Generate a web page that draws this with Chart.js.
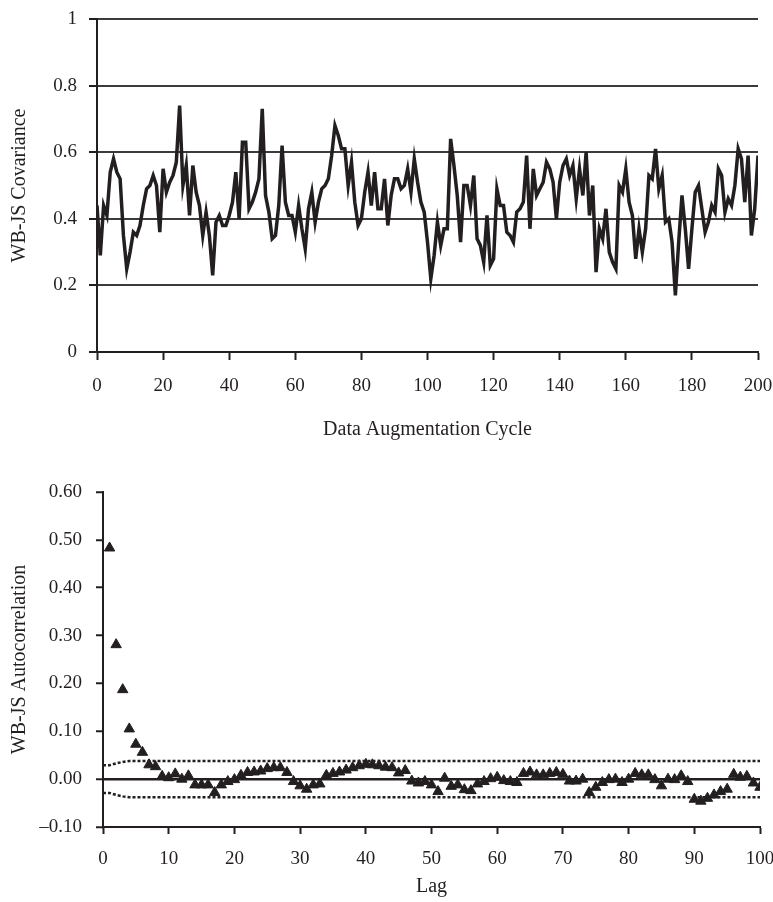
<!DOCTYPE html>
<html>
<head>
<meta charset="utf-8">
<script src="https://cdn.jsdelivr.net/npm/chart.js@4/dist/chart.umd.min.js"></script>
<style>
  html, body { margin: 0; padding: 0; background: #ffffff; }
  #wrap { position: relative; width: 773px; height: 902px; }
  canvas { position: absolute; left: 0; }
</style>
</head>
<body>
<div id="wrap">
  <canvas id="c1" width="773" height="450" style="top:0"></canvas>
  <canvas id="c2" width="773" height="452" style="top:450px"></canvas>
</div>
<script>
// ---------- Data: top chart (WB-JS covariance by data augmentation cycle) ----------
const cycles = Array.from({ length: 201 }, (_, i) => i);
const covariance = [
  0.44, 0.29, 0.44, 0.41, 0.54, 0.58, 0.54, 0.52, 0.35, 0.25,
  0.30, 0.36, 0.35, 0.38, 0.44, 0.49, 0.50, 0.53, 0.50, 0.36,
  0.55, 0.48, 0.51, 0.53, 0.57, 0.74, 0.50, 0.56, 0.41, 0.56,
  0.48, 0.44, 0.35, 0.42, 0.35, 0.23, 0.39, 0.41, 0.38, 0.38,
  0.41, 0.45, 0.54, 0.40, 0.63, 0.63, 0.43, 0.45, 0.48, 0.52,
  0.73, 0.47, 0.42, 0.34, 0.35, 0.44, 0.62, 0.45, 0.41, 0.41,
  0.36, 0.44, 0.37, 0.31, 0.43, 0.48, 0.39, 0.45, 0.49, 0.50,
  0.52, 0.59, 0.68, 0.65, 0.61, 0.61, 0.50, 0.57, 0.45, 0.38,
  0.40, 0.48, 0.54, 0.44, 0.54, 0.43, 0.43, 0.52, 0.38, 0.47,
  0.52, 0.52, 0.49, 0.50, 0.55, 0.48, 0.58, 0.51, 0.45, 0.42,
  0.33, 0.22, 0.29, 0.39, 0.32, 0.37, 0.37, 0.64, 0.56, 0.47,
  0.33, 0.50, 0.50, 0.44, 0.53, 0.34, 0.32, 0.27, 0.41, 0.26,
  0.28, 0.49, 0.44, 0.44, 0.36, 0.35, 0.33, 0.42, 0.43, 0.45,
  0.59, 0.37, 0.55, 0.47, 0.49, 0.51, 0.57, 0.55, 0.51, 0.40,
  0.51, 0.56, 0.58, 0.53, 0.56, 0.46, 0.55, 0.47, 0.60, 0.41,
  0.50, 0.24, 0.37, 0.34, 0.43, 0.30, 0.27, 0.25, 0.50, 0.48,
  0.55, 0.45, 0.41, 0.28, 0.37, 0.30, 0.37, 0.53, 0.52, 0.61,
  0.49, 0.53, 0.39, 0.40, 0.33, 0.17, 0.33, 0.47, 0.37, 0.25,
  0.37, 0.48, 0.50, 0.43, 0.36, 0.39, 0.44, 0.42, 0.55, 0.53,
  0.42, 0.46, 0.44, 0.50, 0.61, 0.58, 0.45, 0.59, 0.35, 0.43,
  0.59
];

// ---------- Data: bottom chart (WB-JS autocorrelation by lag) ----------
const lags = Array.from({ length: 100 }, (_, i) => i + 1);
const autocorrelation = [
  0.483, 0.281, 0.187, 0.105, 0.073, 0.056, 0.030, 0.026, 0.006, 0.003,
  0.011, 0.000, 0.007, -0.012, -0.012, -0.012, -0.028, -0.012, -0.005, -0.001,
  0.008, 0.014, 0.015, 0.017, 0.022, 0.024, 0.024, 0.014, -0.005, -0.014,
  -0.021, -0.012, -0.010, 0.008, 0.012, 0.015, 0.019, 0.024, 0.028, 0.031,
  0.030, 0.028, 0.025, 0.024, 0.013, 0.018, -0.004, -0.008, -0.005, -0.012,
  -0.026, 0.002, -0.015, -0.012, -0.022, -0.024, -0.010, -0.005, 0.001, 0.004,
  -0.003, -0.005, -0.007, 0.012, 0.015, 0.009, 0.009, 0.012, 0.014, 0.010,
  -0.004, -0.004, 0.000, -0.028, -0.017, -0.007, -0.001, 0.000, -0.007, 0.000,
  0.012, 0.009, 0.009, -0.001, -0.014, 0.000, -0.001, 0.007, -0.005, -0.042,
  -0.046, -0.040, -0.033, -0.026, -0.021, 0.010, 0.004, 0.006, -0.008, -0.017
];
// confidence band (dotted lines)
const bandLags = [0, 1, 2, 3, 4, 100];
const bandUpper = [0.029, 0.029, 0.033, 0.036, 0.038, 0.038];
const bandLower = [-0.029, -0.029, -0.033, -0.036, -0.038, -0.038];

// ---------- Tick / title text ----------
const topTitleX = 'Data Augmentation Cycle';
const topTitleY = 'WB-JS Covariance';
const botTitleX = 'Lag';
const botTitleY = 'WB-JS Autocorrelation';

const INK = '#231f20';
const FONT = 'Liberation Serif, Times New Roman, serif';
const tickFont = { family: FONT, size: 19 };
const titleFont = { family: FONT, size: 20 };

Chart.defaults.color = INK;
Chart.defaults.font.family = FONT;

function pairs(xs, ys) { return xs.map((x, i) => ({ x: x, y: ys[i] })); }

// ---------- Top chart ----------
new Chart(document.getElementById('c1'), {
  type: 'line',
  data: {
    datasets: [{
      data: pairs(cycles, covariance),
      borderColor: INK,
      borderWidth: 3.5,
      pointRadius: 0,
      tension: 0,
      fill: false,
      borderJoinStyle: 'miter'
    }]
  },
  options: {
    responsive: false,
    animation: false,
    devicePixelRatio: 1,
    layout: { padding: { left: 0, top: 19, right: 0, bottom: 0 } },
    plugins: { legend: { display: false }, tooltip: { enabled: false } },
    scales: {
      x: {
        type: 'linear', min: 0, max: 200,
        ticks: { stepSize: 20, font: tickFont, color: INK, padding: 15, maxRotation: 0 },
        grid: { drawOnChartArea: false, tickLength: 8, tickColor: INK, tickWidth: 2 },
        border: { color: INK, width: 2 },
        title: { display: true, text: topTitleX, font: titleFont, color: INK, padding: { top: 0, bottom: 8 } },
        afterFit: s => { s.height = 98; s.paddingLeft = 0; s.paddingRight = 15; }
      },
      y: {
        type: 'linear', min: 0, max: 1,
        ticks: {
          stepSize: 0.2, font: tickFont, color: INK, padding: 12,
          callback: v => String(Number(v.toFixed(1)))
        },
        grid: { color: '#3b3b3b', lineWidth: 2, tickLength: 8, tickColor: INK, tickWidth: 2 },
        border: { color: INK, width: 2 },
        title: { display: true, text: topTitleY, font: titleFont, color: INK, padding: { top: 8, bottom: 0 } },
        afterFit: s => { s.width = 97; s.paddingTop = 0; s.paddingBottom = 0; }
      }
    }
  }
});

// ---------- Bottom chart ----------
function fmtTick(v) {
  if (Math.abs(v) < 1e-9) v = 0;
  const s = Math.abs(v).toFixed(2);
  return v < 0 ? '\u2013' + s : s;
}

new Chart(document.getElementById('c2'), {
  type: 'line',
  data: {
    datasets: [
      {
        data: pairs(lags, autocorrelation),
        showLine: false,
        pointStyle: 'triangle',
        pointRadius: 6,
        pointBackgroundColor: INK,
        pointBorderColor: INK,
        pointBorderWidth: 1
      },
      {
        data: pairs(bandLags, bandUpper),
        borderColor: INK,
        borderWidth: 2.5,
        borderDash: [3, 2],
        pointRadius: 0,
        tension: 0,
        fill: false
      },
      {
        data: pairs(bandLags, bandLower),
        borderColor: INK,
        borderWidth: 2.5,
        borderDash: [3, 2],
        pointRadius: 0,
        tension: 0,
        fill: false
      }
    ]
  },
  options: {
    responsive: false,
    animation: false,
    devicePixelRatio: 1,
    layout: { padding: { left: 0, top: 42, right: 0, bottom: 0 } },
    plugins: { legend: { display: false }, tooltip: { enabled: false } },
    scales: {
      x: {
        type: 'linear', min: 0, max: 100,
        ticks: { stepSize: 10, font: tickFont, color: INK, padding: 14, maxRotation: 0 },
        grid: { drawOnChartArea: false, tickLength: 7, tickColor: INK, tickWidth: 2 },
        border: { color: INK, width: 2 },
        title: { display: true, text: botTitleX, font: titleFont, color: INK, padding: { top: 0, bottom: 3 } },
        afterFit: s => { s.height = 75; s.paddingLeft = 0; s.paddingRight = 13; }
      },
      y: {
        type: 'linear', min: -0.1, max: 0.6,
        ticks: { stepSize: 0.1, font: tickFont, color: INK, padding: 14, callback: v => fmtTick(v) },
        grid: {
          color: c => (c.tick && Math.abs(c.tick.value) < 1e-9) ? INK : 'rgba(0,0,0,0)',
          lineWidth: 2.5, tickLength: 7, tickColor: INK, tickWidth: 2
        },
        border: { color: INK, width: 2 },
        title: { display: true, text: botTitleY, font: titleFont, color: INK, padding: { top: 8, bottom: 0 } },
        afterFit: s => { s.width = 103; s.paddingTop = 0; s.paddingBottom = 0; }
      }
    }
  }
});
</script>
</body>
</html>
